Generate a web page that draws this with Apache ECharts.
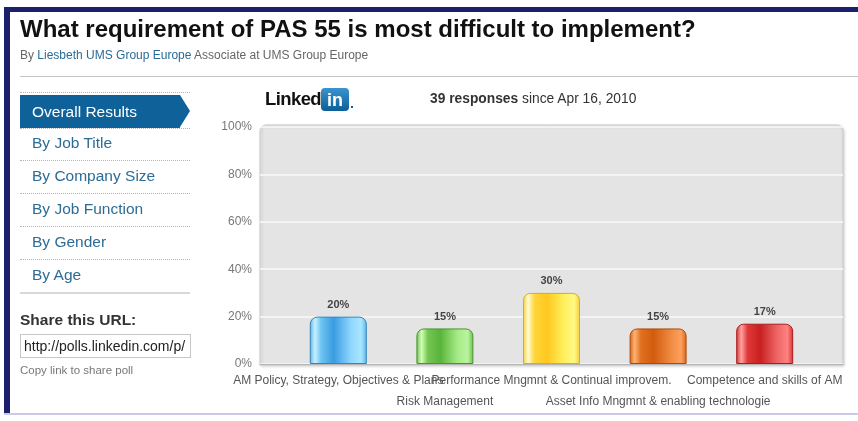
<!DOCTYPE html>
<html>
<head>
<meta charset="utf-8">
<title>PAS 55 poll</title>
<script src="https://cdn.jsdelivr.net/npm/echarts@6/dist/echarts.min.js"></script>
<style>
  html, body { margin: 0; padding: 0; width: 858px; height: 421px; overflow: hidden; background: #fff;
    font-family: "Liberation Sans", Arial, sans-serif; }
  #chart { position: absolute; left: 0; top: 0; width: 858px; height: 421px; }
  .abs { position: absolute; white-space: nowrap; }
  .frame-top { left: 4px; top: 7px; width: 854px; height: 5px; background: #1c1f6b; border-top-left-radius: 4px; }
  .frame-left { left: 4px; top: 7px; width: 6px; height: 407px; background: #1c1f6b; }
  .frame-bottom { left: 4px; top: 413px; width: 854px; height: 2px; background: #cbcae6; }
  .title { left: 20px; top: 15px; font-size: 24px; font-weight: bold; color: #111; }
  .byline { left: 20px; top: 48px; font-size: 12px; color: #666; }
  .byline a { color: #2a6b98; text-decoration: none; }
  .rule { left: 20px; top: 76px; width: 838px; height: 1px; background: #c4c4c4; }
  .menu-sel { left: 20px; top: 95px; width: 160px; height: 33px; background: #0f6299; }
  .menu-arrow { left: 180px; top: 95px; width: 0; height: 0; border-left: 10px solid #0f6299;
    border-top: 16.5px solid transparent; border-bottom: 16.5px solid transparent; }
  .menu-sel-text { left: 32px; top: 95px; line-height: 33px; font-size: 15.5px; color: #fff; }
  .item { left: 32px; font-size: 15.5px; color: #2c6c95; line-height: 18px; }
  .dots { left: 20px; width: 170px; height: 0; border-top: 1px dotted #b4b4b4; }
  .solid { left: 20px; top: 292px; width: 170px; height: 2px; background: #d8d8d8; }
  .share { left: 20px; top: 311px; font-size: 15.5px; font-weight: bold; color: #333; }
  .url { left: 20px; top: 334px; width: 166px; height: 22px; border: 1px solid #c8c8c8; font-size: 14px;
    line-height: 22px; padding-left: 3px; overflow: hidden; color: #222; }
  .copy { left: 20px; top: 364px; font-size: 11.5px; color: #777; }
  .logo-word { left: 265px; top: 88px; font-size: 18.5px; font-weight: bold; color: #111; letter-spacing: -0.6px; }
  .logo-box { left: 321px; top: 88px; width: 28px; height: 23px; border-radius: 4px;
    background: linear-gradient(#3b93cf, #0c5f96); color: #fff; font-size: 18px; font-weight: bold;
    text-align: center; line-height: 24px; }
  .logo-dot { left: 351px; top: 106px; width: 2px; height: 2px; background: #0c5f96; }
  .resp { left: 430px; top: 91px; font-size: 13.8px; color: #333; }
</style>
</head>
<body>
<div id="chart"></div>

<div class="abs frame-top"></div>
<div class="abs frame-left"></div>
<div class="abs frame-bottom"></div>

<div class="abs title">What requirement of PAS 55 is most difficult to implement?</div>
<div class="abs byline">By <a>Liesbeth UMS Group Europe</a> Associate at UMS Group Europe</div>
<div class="abs rule"></div>

<div class="abs dots" style="top:92px"></div>
<div class="abs menu-sel"></div>
<div class="abs menu-arrow"></div>
<div class="abs menu-sel-text">Overall Results</div>
<div class="abs dots" style="top:128px"></div>
<div class="abs item" style="top:134px">By Job Title</div>
<div class="abs dots" style="top:160px"></div>
<div class="abs item" style="top:167px">By Company Size</div>
<div class="abs dots" style="top:193px"></div>
<div class="abs item" style="top:200px">By Job Function</div>
<div class="abs dots" style="top:226px"></div>
<div class="abs item" style="top:233px">By Gender</div>
<div class="abs dots" style="top:259px"></div>
<div class="abs item" style="top:266px">By Age</div>
<div class="abs solid"></div>

<div class="abs share">Share this URL:</div>
<div class="abs url">http://polls.linkedin.com/p/</div>
<div class="abs copy">Copy link to share poll</div>

<div class="abs logo-word">Linked</div>
<div class="abs logo-box">in</div>
<div class="abs logo-dot"></div>
<div class="abs resp"><b>39 responses</b> since Apr 16, 2010</div>

<script>
// Poll answers and their share of the 39 responses (percent)
const categories = [
  'AM Policy, Strategy, Objectives & Plans',
  'Risk Management',
  'Performance Mngmnt & Continual improvem.',
  'Asset Info Mngmnt & enabling technologie',
  'Competence and skills of AM'
];
const responseShare = [20, 15, 30, 15, 17];
const percentTicks = [0, 20, 40, 60, 80, 100];

// Glossy column palettes: [edge, highlight, mid, deep, light, lighter, border]
const palettes = [
  ['#5ab6ea', '#c9f0ff', '#6cc4f2', '#3a9ce0', '#8fd6ff', '#a9e6ff', '#3585bd'],
  ['#6cbd4e', '#d2ffb4', '#74c652', '#58b43a', '#a6ea86', '#b9f4a0', '#4a9430'],
  ['#f6cd3a', '#fffbd2', '#ffd63c', '#ffc81e', '#fff05e', '#fff884', '#d2ac2c'],
  ['#d66616', '#ffb274', '#e0701f', '#d25c0e', '#ef8a40', '#ff9f5e', '#a94c0c'],
  ['#d63030', '#ffa2a2', '#e03838', '#c92020', '#ee6666', '#ff8282', '#a81e1e']
];

function glossy(p) {
  return new echarts.graphic.LinearGradient(0, 0, 1, 0, [
    { offset: 0, color: p[0] },
    { offset: 0.09, color: p[1] },
    { offset: 0.2, color: p[2] },
    { offset: 0.42, color: p[3] },
    { offset: 0.72, color: p[4] },
    { offset: 0.9, color: p[5] },
    { offset: 1, color: p[0] }
  ]);
}

const chart = echarts.init(document.getElementById('chart'), null, { renderer: 'canvas' });

chart.setOption({
  animation: false,
  graphic: [{
    type: 'rect',
    z: -10,
    shape: { x: 260, y: 125, width: 583, height: 240, r: [6, 6, 0, 0] },
    style: {
      fill: '#e4e4e4', stroke: '#cdcdcd', lineWidth: 1,
      shadowBlur: 3, shadowColor: 'rgba(0,0,0,0.18)', shadowOffsetX: 1, shadowOffsetY: 1
    }
  }],
  grid: [
    { left: 260, top: 127, width: 583, height: 237 },
    { left: 285, top: 127, width: 533, height: 237 }
  ],
  xAxis: [
    {
      gridIndex: 0, type: 'value', min: 0, max: 1,
      axisLine: { show: true, lineStyle: { color: '#b4b4b4', width: 1 } },
      axisTick: { show: false }, axisLabel: { show: false }, splitLine: { show: false }
    },
    {
      gridIndex: 1, type: 'category', data: categories,
      axisLine: { show: false }, axisTick: { show: false },
      axisLabel: {
        interval: 0, hideOverlap: false, color: '#555', fontSize: 12, lineHeight: 21, margin: 6,
        fontFamily: 'Liberation Sans, Arial, sans-serif',
        formatter: (v, i) => (i % 2 ? '\n' + v : v)
      }
    }
  ],
  yAxis: [
    {
      gridIndex: 0, type: 'value',
      min: percentTicks[0], max: percentTicks[percentTicks.length - 1],
      interval: percentTicks[1] - percentTicks[0],
      axisLine: { show: false }, axisTick: { show: false },
      axisLabel: { formatter: '{value}%', color: '#777', fontSize: 12, margin: 8,
        fontFamily: 'Liberation Sans, Arial, sans-serif' },
      splitLine: { show: true, lineStyle: { color: '#fafafa', width: 1.5 } }
    },
    {
      gridIndex: 1, type: 'value',
      min: percentTicks[0], max: percentTicks[percentTicks.length - 1],
      show: false, splitLine: { show: false }
    }
  ],
  series: [{
    type: 'bar',
    xAxisIndex: 1, yAxisIndex: 1,
    barWidth: 57,
    data: responseShare.map((v, i) => ({
      value: v,
      itemStyle: {
        color: glossy(palettes[i]),
        borderColor: palettes[i][6], borderWidth: 1,
        borderRadius: [7, 7, 0, 0]
      }
    })),
    label: {
      show: true, position: 'top', distance: 6,
      formatter: '{c}%', fontSize: 11, fontWeight: 'bold', color: '#444',
      fontFamily: 'Liberation Sans, Arial, sans-serif'
    }
  }]
});
</script>
</body>
</html>
